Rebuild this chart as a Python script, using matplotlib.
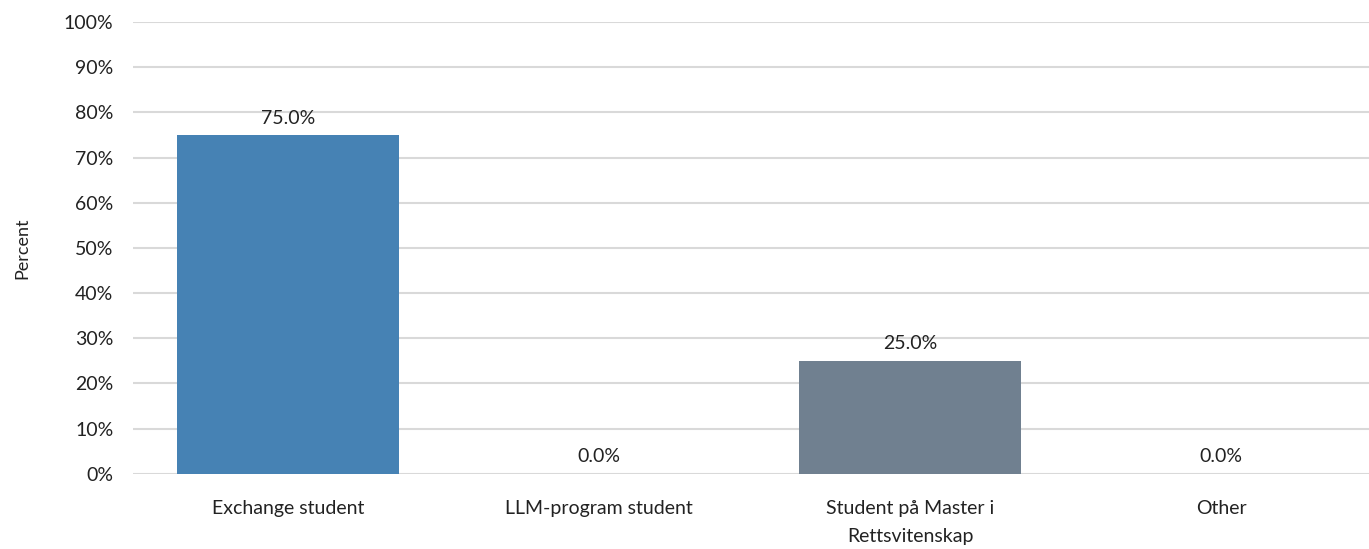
import matplotlib
matplotlib.use("Agg")
import matplotlib.pyplot as plt
from matplotlib.ticker import PercentFormatter

# chart data
categories = ["Exchange student", "LLM-program student",
              "Student på Master i\nRettsvitenskap", "Other"]
values = [75.0, 0.0, 25.0, 0.0]
colors = ["#4682B4", "#4682B4", "#708090", "#708090"]
yticks = list(range(0, 101, 10))

plt.rcParams['font.family'] = ['Lato', 'DejaVu Sans']
fs = 14

fig = plt.figure(figsize=(13.69, 5.49), dpi=100)
ax = fig.add_axes([0.097, 0.137, 0.903, 0.823])

x = range(len(categories))
bars = ax.bar(x, values, width=0.714, color=colors, zorder=3)

for b, v in zip(bars, values):
    ax.annotate(f"{v:.1f}%", (b.get_x() + b.get_width() / 2, v),
                xytext=(0, 6), textcoords="offset points",
                ha="center", va="bottom", fontsize=fs, color="#222222")

ax.set_xlim(-0.5, 3.475)
ax.set_ylim(0, 100)
ax.set_yticks(yticks)
ax.yaxis.set_major_formatter(PercentFormatter(decimals=0))
ax.set_xticks(list(x))
ax.set_xticklabels(categories, fontsize=fs, color="#222222", linespacing=1.75)
ax.tick_params(axis="y", labelsize=fs, labelcolor="#222222", length=0, pad=14)
ax.tick_params(axis="x", length=0, pad=19)

ax.grid(axis="y", color="#d9d9d9", linewidth=1.5, zorder=0)
for s in ax.spines.values():
    s.set_visible(False)

ax.set_ylabel("Percent", fontsize=fs - 1, color="#222222", labelpad=24)

fig.savefig("out.png", dpi=100)
